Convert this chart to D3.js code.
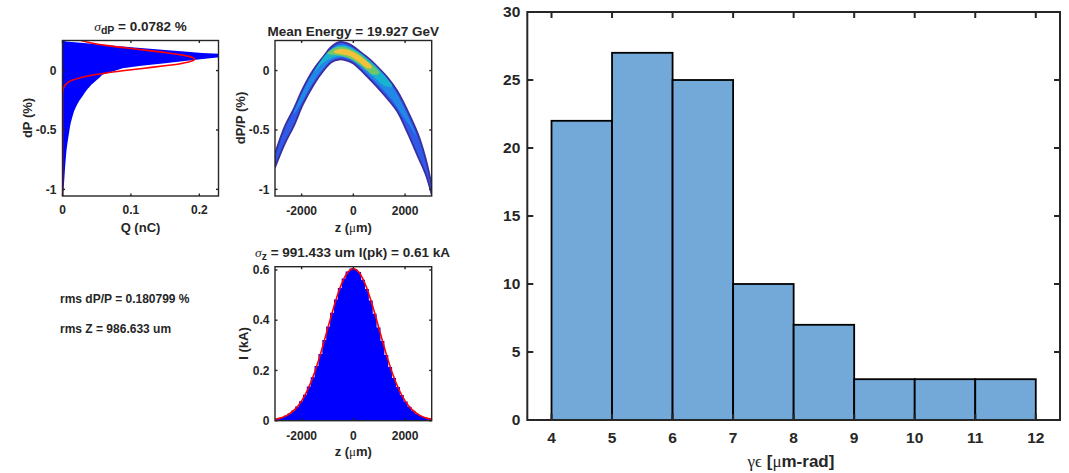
<!DOCTYPE html>
<html>
<head>
<meta charset="utf-8">
<script src="https://cdn.jsdelivr.net/npm/d3@7"></script>
<style>
  body { margin: 0; background: #fff; }
  text { font-family: "Liberation Sans", Arial, Helvetica, sans-serif; font-weight: bold; fill: #262626; }
</style>
</head>
<body>
<div id="figure"></div>
<script>
// ---------- data ----------

// emittance histogram (right)
const emitEdges = [4, 5, 6, 7, 8, 9, 10, 11, 12];
const emitCounts = [22, 27, 25, 10, 7, 3, 3, 3];
const emitXTicks = [4, 5, 6, 7, 8, 9, 10, 11, 12];
const emitYTicks = [0, 5, 10, 15, 20, 25, 30];

// energy spectrum: outline of the charge histogram, dP (%) and Q (nC)
const dpEdgeDp = [0.253, 0.245, 0.23, 0.216, 0.195, 0.174, 0.16, 0.147, 0.141, 0.116, 0.11, 0.098, 0.085,
  0.062, 0.04, 0.02, 0.0, -0.018, -0.036, -0.06, -0.079, -0.1, -0.12, -0.135, -0.16, -0.19, -0.219,
  -0.25, -0.28, -0.303, -0.34, -0.388, -0.43, -0.47, -0.528, -0.6, -0.669, -0.74, -0.81, -0.9, -0.978, -1.056];
const dpEdgeQ = [0.0, 0.005, 0.035, 0.062, 0.105, 0.15, 0.178, 0.204, 0.235, 0.235, 0.226, 0.205, 0.185,
  0.15, 0.115, 0.088, 0.078, 0.067, 0.058, 0.054, 0.05, 0.046, 0.042, 0.04, 0.036, 0.032, 0.029,
  0.025, 0.022, 0.02, 0.017, 0.0145, 0.0125, 0.011, 0.0095, 0.0075, 0.0059, 0.0048, 0.0038, 0.0028, 0.0019, 0.001];
const dpFitDp = [0.253, 0.23, 0.21, 0.19, 0.17, 0.15, 0.13, 0.11, 0.096, 0.08, 0.06, 0.04, 0.02, 0.0,
  -0.02, -0.04, -0.06, -0.08, -0.10, -0.12, -0.14, -0.16, -0.19, -0.25, -1.06];
const dpFitQ = [0.027, 0.044, 0.066, 0.094, 0.123, 0.152, 0.176, 0.190, 0.193, 0.189, 0.174, 0.149, 0.120, 0.091,
  0.064, 0.042, 0.026, 0.015, 0.008, 0.0043, 0.002, 0.0009, 0.0002, 0.0, 0.0];

// longitudinal phase space band (z in um, dP/P in %)
const bandZ = [-3030, -2650, -2300, -1950, -1550, -1150, -850, -550, -250, 0, 300, 650, 1000, 1300, 1700, 2100, 2500, 2800, 3030];
const bandUpper = [-0.70, -0.47, -0.32, -0.15, 0.005, 0.12, 0.20, 0.24, 0.23, 0.203, 0.152, 0.092, 0.017, -0.053, -0.172, -0.34, -0.535, -0.745, -0.97];
const bandLower = [-0.815, -0.615, -0.465, -0.285, -0.125, 0.0, 0.07, 0.093, 0.083, 0.06, 0.002, -0.077, -0.158, -0.232, -0.345, -0.525, -0.725, -0.875, -1.045];
const lightZ = [-2300, -2000, -1700, -1400, -1100, -800, -500, -200, 100, 400, 700, 1000, 1300, 1600, 1900, 2200, 2400];
const lightUpper = [-0.345, -0.2, -0.07, 0.035, 0.112, 0.188, 0.218, 0.208, 0.168, 0.118, 0.062, -0.003, -0.073, -0.163, -0.283, -0.425, -0.53];
const lightLower = [-0.37, -0.27, -0.15, -0.045, 0.035, 0.093, 0.113, 0.103, 0.062, 0.002, -0.063, -0.128, -0.198, -0.278, -0.38, -0.47, -0.55];
const cyanZ = [-1500, -1200, -900, -600, -300, 0, 300, 600, 900, 1200, 1500];
const cyanUpper = [0.0, 0.1, 0.172, 0.208, 0.208, 0.183, 0.143, 0.092, 0.032, -0.04, -0.12];
const cyanLower = [-0.01, 0.06, 0.1, 0.12, 0.11, 0.085, 0.04, -0.015, -0.075, -0.13, -0.14];
const greenZ = [-1000, -750, -500, -250, 0, 250, 500, 750, 1000];
const greenUpper = [0.15, 0.187, 0.2, 0.192, 0.17, 0.137, 0.092, 0.042, -0.01];
const greenLower = [0.14, 0.13, 0.125, 0.11, 0.085, 0.05, 0.005, -0.035, -0.03];
const yellowZ = [-750, -500, -250, 0, 250, 500, 700];
const yellowUpper = [0.165, 0.184, 0.177, 0.157, 0.124, 0.08, 0.045];
const yellowLower = [0.15, 0.138, 0.128, 0.103, 0.066, 0.023, 0.015];

// current profile, z bin centres (um) and I (kA)
const zCenters = [-2925, -2775, -2625, -2475, -2325, -2175, -2025, -1875, -1725, -1575,
  -1425, -1275, -1125, -975, -825, -675, -525, -375, -225, -75,
  75, 225, 375, 525, 675, 825, 975, 1125, 1275, 1425,
  1575, 1725, 1875, 2025, 2175, 2325, 2475, 2625, 2775, 2925];
const zCurrent = [0.009, 0.013, 0.020, 0.029, 0.041, 0.057, 0.077, 0.103, 0.136, 0.173,
  0.218, 0.266, 0.321, 0.375, 0.430, 0.482, 0.528, 0.566, 0.594, 0.606,
  0.604, 0.592, 0.561, 0.524, 0.478, 0.426, 0.371, 0.317, 0.262, 0.214,
  0.170, 0.134, 0.102, 0.076, 0.056, 0.040, 0.028, 0.019, 0.013, 0.009];
const zFitZ = [-3030, -2750, -2500, -2250, -2000, -1750, -1500, -1250, -1000, -750, -500, -250, 0,
  250, 500, 750, 1000, 1250, 1500, 1750, 2000, 2250, 2500, 2750, 3030];
const zFitI = [0.0058, 0.0129, 0.0251, 0.046, 0.079, 0.127, 0.192, 0.273, 0.364, 0.455, 0.533, 0.586, 0.605,
  0.586, 0.533, 0.455, 0.364, 0.273, 0.192, 0.127, 0.079, 0.046, 0.0251, 0.0129, 0.0058];

const smallXTicksQ = [0, 0.1, 0.2];
const smallYTicksDp = [-1, -0.5, 0];
const smallXTicksZ = [-2000, 0, 2000];
const smallYTicksI = [0, 0.2, 0.4, 0.6];

// ---------- drawing ----------
const W = 1069, H = 473;
const svg = d3.select("#figure").append("svg")
  .attr("width", W).attr("height", H);

let clipCount = 0;
function panel(x0, x1, y0, y1, xs, ys, xticks, yticks, tickLen, opts) {
  const g = svg.append("g");
  const id = "clip" + (clipCount++);
  svg.append("clipPath").attr("id", id)
    .append("rect").attr("x", x0).attr("y", y0).attr("width", x1 - x0).attr("height", y1 - y0);
  const plot = g.append("g").attr("clip-path", `url(#${id})`);

  // frame & inward ticks on all four sides
  const axes = g.append("g").attr("stroke", "#262626").attr("stroke-width", opts.lw);
  xticks.forEach(t => {
    axes.append("line").attr("x1", xs(t)).attr("x2", xs(t)).attr("y1", y1).attr("y2", y1 - tickLen);
    axes.append("line").attr("x1", xs(t)).attr("x2", xs(t)).attr("y1", y0).attr("y2", y0 + tickLen);
  });
  yticks.forEach(t => {
    axes.append("line").attr("y1", ys(t)).attr("y2", ys(t)).attr("x1", x0).attr("x2", x0 + tickLen);
    axes.append("line").attr("y1", ys(t)).attr("y2", ys(t)).attr("x1", x1).attr("x2", x1 - tickLen);
  });
  axes.append("rect").attr("x", x0).attr("y", y0).attr("width", x1 - x0).attr("height", y1 - y0)
    .attr("fill", "none");

  g.selectAll(".xl").data(xticks).join("text")
    .attr("x", d => xs(d)).attr("y", y1 + opts.xPad)
    .attr("text-anchor", "middle").style("font-size", opts.fs + "px")
    .text(d => String(d));
  g.selectAll(".yl").data(yticks).join("text")
    .attr("x", x0 - opts.yPad).attr("y", d => ys(d))
    .attr("dy", "0.35em")
    .attr("text-anchor", "end").style("font-size", opts.fs + "px")
    .text(d => String(d));
  return { g: g, plot: plot, axes: axes };
}

function muLabel(x, y, before, after, size) {
  const t = svg.append("text").attr("x", x).attr("y", y).attr("text-anchor", "middle")
    .style("font-size", size + "px");
  t.append("tspan").text(before);
  t.append("tspan").text("μ").style("font-family", "'Liberation Serif', serif").style("font-weight", "normal");
  t.append("tspan").text(after);
  return t;
}

// ---- panel 1: energy spectrum ----
const q = d3.scaleLinear().domain([0, 0.228]).range([62.5, 218.5]);
const dp1 = d3.scaleLinear().domain([-1.056, 0.253]).range([196, 40.5]);
const p1 = panel(62.5, 218.5, 40.5, 196, q, dp1, smallXTicksQ, smallYTicksDp, 2.5,
  { lw: 1.4, fs: 12, xPad: 17.5, yPad: 6 });
p1.plot.append("path")
  .datum(dpEdgeDp.map((d, i) => [dpEdgeQ[i], d]))
  .attr("d", d3.area().y(d => dp1(d[1])).x0(q(0)).x1(d => q(d[0])))
  .attr("fill", "#0000ff");
p1.plot.append("path")
  .datum(dpFitDp.map((d, i) => [dpFitQ[i], d]))
  .attr("d", d3.line().x(d => q(d[0])).y(d => dp1(d[1])).curve(d3.curveMonotoneY))
  .attr("fill", "none").attr("stroke", "#ff0000").attr("stroke-width", 1.6);
p1.g.node().appendChild(p1.axes.node());

const title1 = svg.append("text").attr("x", 140.5).attr("y", 30.5).attr("text-anchor", "middle")
  .style("font-size", "13.5px");
title1.append("tspan").text("σ").style("font-family", "'Liberation Serif', serif").style("font-weight", "normal").style("font-style", "italic");
title1.append("tspan").text("dP").attr("dy", 3.5).style("font-size", "10.5px");
title1.append("tspan").text(" = 0.0782 %").attr("dy", -3.5);

svg.append("text").attr("x", 140.5).attr("y", 232).attr("text-anchor", "middle")
  .style("font-size", "13px").text("Q (nC)");
svg.append("text").attr("transform", "translate(31.5,118) rotate(-90)").attr("text-anchor", "middle")
  .style("font-size", "13px").text("dP (%)");

// ---- panel 2: longitudinal phase space ----
const z2 = d3.scaleLinear().domain([-3030, 3030]).range([275, 431.7]);
const dp2 = d3.scaleLinear().domain([-1.056, 0.253]).range([196, 40.5]);
const p2 = panel(275, 431.7, 40.5, 196, z2, dp2, smallXTicksZ, smallYTicksDp, 2.5,
  { lw: 1.4, fs: 12, xPad: 18.5, yPad: 5.5 });
const bandArea = d3.area().x(d => z2(d[0])).y0(d => dp2(d[2])).y1(d => dp2(d[1])).curve(d3.curveCatmullRom);
function layer(zs, up, lo, fill, stroke) {
  p2.plot.append("path")
    .datum(zs.map((z, i) => [z, up[i], lo[i]]))
    .attr("d", bandArea)
    .attr("fill", fill)
    .attr("stroke", stroke || "none")
    .attr("stroke-width", stroke ? 1.8 : 0)
    .attr("stroke-linejoin", "round");
}
layer(bandZ, bandUpper, bandLower, "#2f5ae8", "#3a2ea0");
layer(lightZ, lightUpper, lightLower, "#2188e8");
layer(cyanZ, cyanUpper, cyanLower, "#18b4cf");
layer(greenZ, greenUpper, greenLower, "#6ec76a");
layer(yellowZ, yellowUpper, yellowLower, "#f2c23a");
p2.g.node().appendChild(p2.axes.node());

svg.append("text").attr("x", 353.3).attr("y", 36).attr("text-anchor", "middle")
  .style("font-size", "13.5px").text("Mean Energy = 19.927 GeV");
muLabel(353.3, 231.5, "z (", "m)", 13);
svg.append("text").attr("transform", "translate(244.5,118) rotate(-90)").attr("text-anchor", "middle")
  .style("font-size", "13px").text("dP/P (%)");

// ---- panel 3: current profile ----
const z3 = d3.scaleLinear().domain([-3030, 3030]).range([275, 431.7]);
const cur = d3.scaleLinear().domain([0, 0.613]).range([420.7, 266.7]);
const p3 = panel(275, 431.7, 266.7, 420.7, z3, cur, smallXTicksZ, smallYTicksI, 2.5,
  { lw: 1.4, fs: 12, xPad: 19, yPad: 5.5 });
const stepPts = [];
zCenters.forEach((c, i) => { stepPts.push([c - 75, zCurrent[i]]); stepPts.push([c + 75, zCurrent[i]]); });
p3.plot.append("path")
  .datum(stepPts)
  .attr("d", d3.area().x(d => z3(d[0])).y0(cur(0)).y1(d => cur(d[1])))
  .attr("fill", "#0000ff");
p3.plot.append("path")
  .datum(zFitZ.map((z, i) => [z, zFitI[i]]))
  .attr("d", d3.line().x(d => z3(d[0])).y(d => cur(d[1])).curve(d3.curveMonotoneX))
  .attr("fill", "none").attr("stroke", "#ff0000").attr("stroke-width", 1.6);
p3.g.node().appendChild(p3.axes.node());

const title3 = svg.append("text").attr("x", 352.5).attr("y", 256.7).attr("text-anchor", "middle")
  .style("font-size", "13.5px");
title3.append("tspan").text("σ").style("font-family", "'Liberation Serif', serif").style("font-weight", "normal").style("font-style", "italic");
title3.append("tspan").text("z").attr("dy", 3.5).style("font-size", "10.5px");
title3.append("tspan").text(" = 991.433 um I(pk) = 0.61 kA").attr("dy", -3.5);
muLabel(353.3, 456, "z (", "m)", 13);
svg.append("text").attr("transform", "translate(248,343.5) rotate(-90)").attr("text-anchor", "middle")
  .style("font-size", "13px").text("I (kA)");

// ---- statistics text ----
svg.append("text").attr("x", 60).attr("y", 302.5).style("font-size", "12px").text("rms dP/P = 0.180799 %");
svg.append("text").attr("x", 60).attr("y", 333).style("font-size", "12px").text("rms Z = 986.633 um");

// ---- right: emittance histogram ----
const ex = d3.scaleLinear().domain([3.6, 12.4]).range([527.3, 1060]);
const ey = d3.scaleLinear().domain([0, 30]).range([420, 12]);
const pr = panel(527.3, 1060, 12, 420, ex, ey, emitXTicks, emitYTicks, 6,
  { lw: 2, fs: 15.5, xPad: 23, yPad: 7 });
pr.plot.selectAll("rect").data(emitCounts).join("rect")
  .attr("x", (d, i) => ex(emitEdges[i]))
  .attr("width", (d, i) => ex(emitEdges[i + 1]) - ex(emitEdges[i]))
  .attr("y", d => ey(d))
  .attr("height", d => ey(0) - ey(d))
  .attr("fill", "#72a9d8")
  .attr("stroke", "#000")
  .attr("stroke-width", 1.8);
pr.g.node().appendChild(pr.axes.node());

const xr = svg.append("text").attr("x", 791).attr("y", 467).attr("text-anchor", "middle")
  .style("font-size", "17px");
xr.append("tspan").text("γϵ").style("font-family", "'Liberation Serif', serif").style("font-weight", "normal");
xr.append("tspan").text(" [");
xr.append("tspan").text("μ").style("font-family", "'Liberation Serif', serif").style("font-weight", "normal");
xr.append("tspan").text("m-rad]");
</script>
</body>
</html>
